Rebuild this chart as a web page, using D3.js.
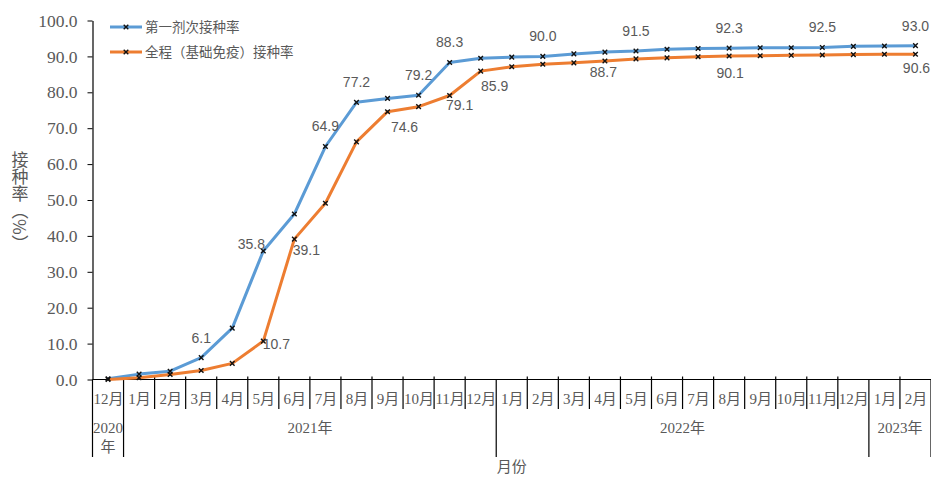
<!DOCTYPE html>
<html><head><meta charset="utf-8">
<script src="https://cdn.jsdelivr.net/npm/d3@7/dist/d3.min.js"></script>
<style>
html,body{margin:0;padding:0;background:#fff;}
svg{display:block;}
</style>
</head><body>
<svg id="c" width="931" height="477"></svg>
<script>
// ---- data ----
const months = ["12月","1月","2月","3月","4月","5月","6月","7月","8月","9月","10月","11月","12月",
                "1月","2月","3月","4月","5月","6月","7月","8月","9月","10月","11月","12月","1月","2月"];
const yearLabels = ["2020年","2021年","2022年","2023年"];
const yearSizes = [1,12,12,2];
const seriesNames = ["第一剂次接种率","全程（基础免疫）接种率"];
const firstDose = [0.2,1.5,2.3,6.1,14.3,35.8,46.1,64.9,77.2,78.3,79.2,88.3,89.5,
                   89.8,90.0,90.7,91.2,91.5,92.0,92.2,92.3,92.4,92.4,92.5,92.8,92.9,93.0];
const fullDose  = [0.0,0.5,1.4,2.5,4.5,10.7,39.1,49.1,66.2,74.6,76.0,79.1,85.9,
                   87.1,87.8,88.2,88.7,89.3,89.6,89.9,90.1,90.2,90.3,90.4,90.5,90.6,90.6];
const yTicks = [0,10,20,30,40,50,60,70,80,90,100];
const firstLabelIdx = [3,5,7,8,10,11,14,17,20,23,26];
const fullLabelIdx  = [5,6,9,11,12,16,20,26];
const yTitle = "接种率（%）";
const xTitle = "月份";

// ---- label placement (offsets from point, px) ----
const firstLabelOff = {5:[-12,-7]};
const firstDefault = [0,-20];
const fullLabelOff = {5:[13,3],6:[12,11],9:[17,15],11:[10,10],12:[14,15],16:[-1.5,11],20:[1,17],26:[1,14]};

// ---- layout ----
const L = 92.5, R = 931, T = 20.5, B = 379.5;
const colors = ["#5B9BD5","#ED7D31"];
const gray = "#595959";
const serif = "'Liberation Serif','Noto Sans CJK SC',serif";
const cjk = "'Noto Sans CJK SC','Liberation Sans',sans-serif";
const sans = "'Liberation Sans',Arial,sans-serif";

const svg = d3.select("#c");
const x = d3.scaleBand().domain(d3.range(months.length)).range([L,R]).padding(0);
const bw = x.bandwidth();
const cx = i => x(i) + bw/2;
const y = d3.scaleLinear().domain([0,100]).range([B,T]);

// y axis
const yAxis = svg.append("g").attr("transform",`translate(${L},0)`)
  .call(d3.axisLeft(y).tickValues(yTicks).tickFormat(d3.format(".1f")).tickSize(5).tickPadding(10).tickSizeOuter(0));
yAxis.select(".domain").attr("stroke","#000").attr("stroke-width",1.2);
yAxis.selectAll(".tick line").attr("stroke","#000");
yAxis.selectAll(".tick text").attr("fill",gray).style("font-family",serif).style("font-size","17.5px");

// x axis baseline
svg.append("line").attr("x1",L).attr("x2",R).attr("y1",B).attr("y2",B).attr("stroke","#000").attr("stroke-width",1.2);

// month separators and labels
const boundaries = d3.range(months.length+1);
const groupBounds = [0];
yearSizes.forEach(s => groupBounds.push(groupBounds[groupBounds.length-1]+s));
svg.append("g").selectAll("line").data(boundaries).join("line")
  .attr("x1", b => b < months.length ? x(b) : R).attr("x2", b => b < months.length ? x(b) : R)
  .attr("y1", b => groupBounds.includes(b) ? B : B-3)
  .attr("y2", b => groupBounds.includes(b) ? 457 : 409)
  .attr("stroke","#000").attr("stroke-width",1.2);

svg.append("g").selectAll("text").data(months).join("text")
  .attr("x",(d,i)=>cx(i)+0.5).attr("y",399).attr("dy","0.35em")
  .attr("text-anchor","middle").attr("fill",gray)
  .style("font-family",serif).style("font-size","15px").text(d=>d);

// year labels
yearLabels.forEach((lab,k)=>{
  const a = groupBounds[k], b = groupBounds[k+1];
  const x0 = x(a), x1 = b < months.length ? x(b) : R;
  const mid = (x0+x1)/2;
  const t = svg.append("text").attr("text-anchor","middle").attr("fill",gray)
    .style("font-family",serif).style("font-size","15px");
  if (x1 - x0 < 50) {
    t.append("tspan").attr("x",mid).attr("y",428).attr("dy","0.35em").text(lab.replace("年",""));
    t.append("tspan").attr("x",mid).attr("y",447).attr("dy","0.35em").text("年");
  } else {
    t.attr("x",mid).attr("y",428).attr("dy","0.35em").text(lab);
  }
});

// axis titles
svg.append("text").attr("x",(L+R)/2).attr("y",467).attr("dy","0.35em").attr("text-anchor","middle")
  .attr("fill",gray).style("font-family",cjk).style("font-size","15px").text(xTitle);
svg.append("text").attr("x",20).attr("y",151)
  .style("writing-mode","vertical-rl").attr("fill",gray)
  .style("font-family",cjk).style("font-size","17px").text(yTitle);

// lines
const line = d3.line().x((d,i)=>cx(i)).y(d=>y(d));
[firstDose, fullDose].forEach((s,k)=>{
  svg.append("path").datum(s).attr("d",line).attr("fill","none")
    .attr("stroke",colors[k]).attr("stroke-width",3).attr("stroke-linejoin","round");
});
// markers
function cross(g, px, py){
  const r = 2.3;
  g.append("path").attr("d",`M${px-r},${py-r}L${px+r},${py+r}M${px-r},${py+r}L${px+r},${py-r}`)
    .attr("stroke","#111").attr("stroke-width",1.4).attr("fill","none");
}
const mg = svg.append("g");
[firstDose, fullDose].forEach(s=>{ s.forEach((v,i)=>cross(mg, cx(i), y(v))); });

// data labels
const lg = svg.append("g").style("font-family",sans).style("font-size","14px").attr("fill",gray);
firstLabelIdx.forEach(i=>{
  const o = firstLabelOff[i] || firstDefault;
  lg.append("text").attr("x",cx(i)+o[0]).attr("y",y(firstDose[i])+o[1]).attr("dy","0.35em")
    .attr("text-anchor","middle").text(firstDose[i].toFixed(1));
});
fullLabelIdx.forEach(i=>{
  const o = fullLabelOff[i];
  lg.append("text").attr("x",cx(i)+o[0]).attr("y",y(fullDose[i])+o[1]).attr("dy","0.35em")
    .attr("text-anchor","middle").text(fullDose[i].toFixed(1));
});

// legend
const leg = svg.append("g");
seriesNames.forEach((n,k)=>{
  const ly = 27 + k*25;
  leg.append("line").attr("x1",110).attr("x2",142).attr("y1",ly).attr("y2",ly)
    .attr("stroke",colors[k]).attr("stroke-width",3);
  cross(leg, 126, ly);
  leg.append("text").attr("x",145).attr("y",ly).attr("dy","0.35em").attr("fill",gray)
    .style("font-family",cjk).style("font-size","13.5px").text(n);
});
</script>
</body></html>
